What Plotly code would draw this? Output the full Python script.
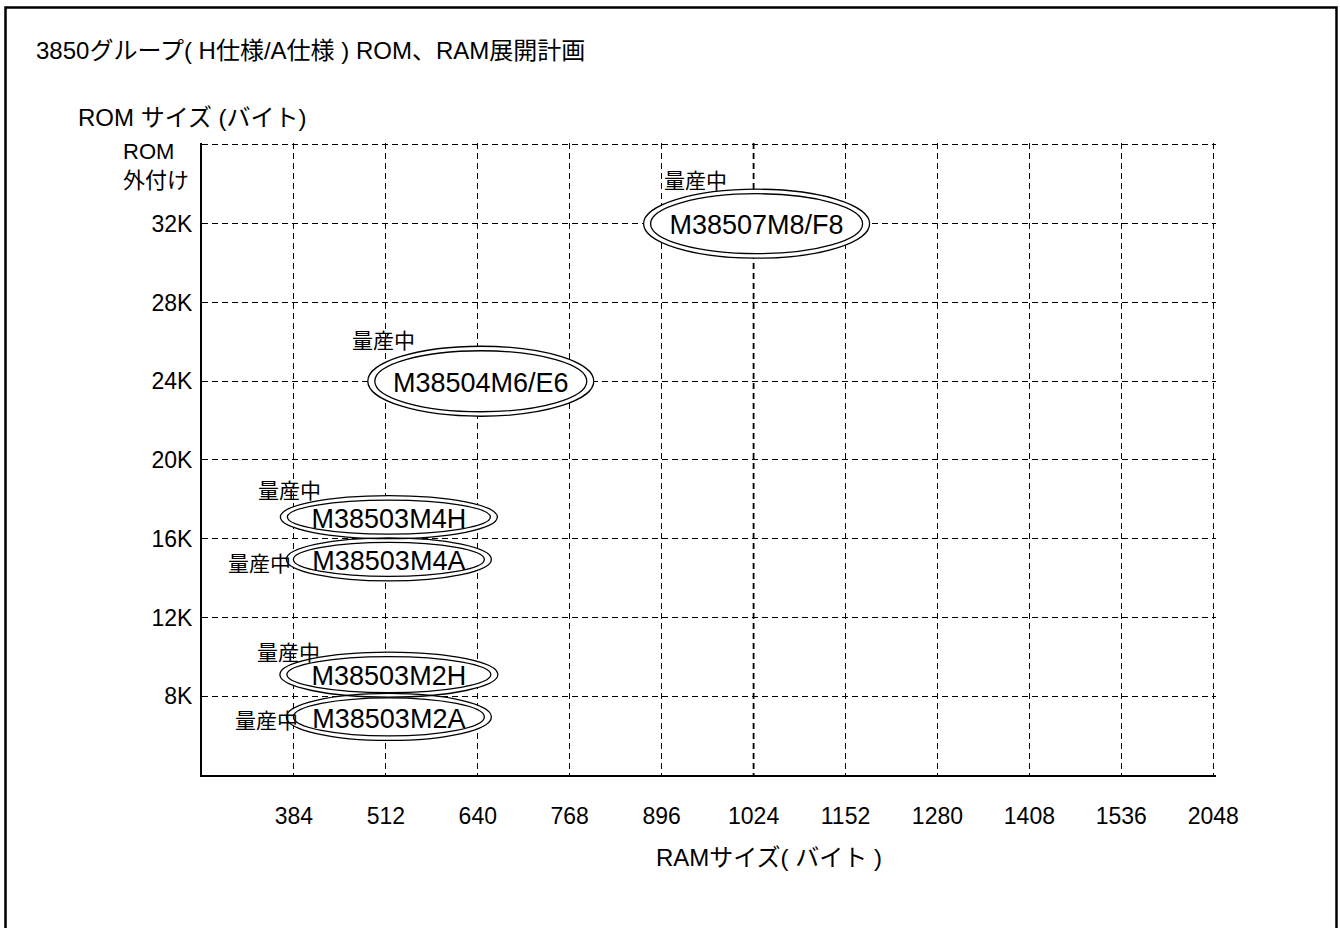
import plotly.graph_objects as go

# ---------------- data ----------------
ram_ticks = ["384", "512", "640", "768", "896", "1024", "1152", "1280", "1408", "1536", "2048"]
rom_ticks = [8, 12, 16, 20, 24, 28, 32, 36]
rom_tick_text = ["8K", "12K", "16K", "20K", "24K", "28K", "32K", ""]
rom_external_label = "ROM<br>外付け"

products = ["M38507M8/F8", "M38504M6/E6", "M38503M4H", "M38503M4A", "M38503M2H", "M38503M2A"]
product_ram = ["1024", "640", "512", "512", "512", "512"]
product_rom_k = [32, 24, 16, 16, 8, 8]
product_status = ["量産中", "量産中", "量産中", "量産中", "量産中", "量産中"]

title_text = "3850グループ( H仕様/A仕様 ) ROM、RAM展開計画"
y_title_text = "ROM サイズ (バイト)"
x_title_text = "RAMサイズ( バイト )"

# ---------------- layout / style ----------------
W, H = 1340, 928
L, R, T, B = 202, 124, 143, 153
X_RANGE = [0, 11.03]
Y_RANGE = [4, 36.1]
PW = W - L - R
PH = H - T - B
PX_X = PW / (X_RANGE[1] - X_RANGE[0])   # px per category step
PX_Y = PH / (Y_RANGE[1] - Y_RANGE[0])   # px per K

FONT = "Liberation Sans, Arial, Noto Sans CJK JP, sans-serif"
TICK_SIZE = 23
TEXT_SIZE = 24
EMPHASISED_RAM = "1024"   # this gridline is drawn heavier in the original
GRID_DASH = "6px,4px"

# vertical separation of H / A variants sharing the same ROM size (K units)
VARIANT_SHIFT = {"H": 1.1, "A": -1.05}
X_NUDGE_PX = 3
# ellipse outer half-width / half-height in pixels
ELLIPSE_PX = {
    "M38507M8/F8": (113, 34.5),
    "M38504M6/E6": (113, 35),
    "M38503M4H": (108.5, 21.5),
    "M38503M4A": (102.5, 21.5),
    "M38503M2H": (109, 22.5),
    "M38503M2A": (102.5, 23.5),
}
INNER_INSET_PX = (7, 4.5)
# status label offset from ellipse centre, pixels (dx right, dy down)
STATUS_OFFSET_PX = {
    "M38507M8/F8": (-61, -43),
    "M38504M6/E6": (-97, -41),
    "M38503M4H": (-99, -27),
    "M38503M4A": (-129, 4),
    "M38503M2H": (-100, -22),
    "M38503M2A": (-122, 4),
}
NAME_DOWN_PX = 4


def px_to_paper(xp, yp):
    return (xp - L) / PW, (H - B - yp) / PH


# centres in data coords
cx, cy = [], []
for name, ram, rom in zip(products, product_ram, product_rom_k):
    x = ram_ticks.index(ram) + 1 + X_NUDGE_PX / PX_X
    siblings = [p for p, rk in zip(products, product_rom_k) if rk == rom]
    y = rom
    if len(siblings) > 1:
        y += VARIANT_SHIFT.get(name[-1], 0)
    cx.append(x)
    cy.append(y)

fig = go.Figure()

fig.add_trace(go.Scatter(
    x=cx,
    y=[v - NAME_DOWN_PX / PX_Y for v in cy],
    mode="text",
    text=products,
    textposition="middle center",
    textfont=dict(family=FONT, size=27, color="black"),
    hoverinfo="skip",
    showlegend=False,
))

shapes = []
# heavier dashed gridline (drawn top->bottom like the grid so dashes align)
ex = ram_ticks.index(EMPHASISED_RAM) + 1
shapes.append(dict(type="line", xref="x", yref="paper", layer="between",
                   x0=ex, x1=ex, y0=1, y1=0,
                   line=dict(color="black", width=1.8, dash=GRID_DASH)))
# white fills first
for name, x, y in zip(products, cx, cy):
    hw, hh = ELLIPSE_PX[name]
    shapes.append(dict(type="circle", xref="x", yref="y", layer="between",
                       x0=x - hw / PX_X, x1=x + hw / PX_X,
                       y0=y - hh / PX_Y, y1=y + hh / PX_Y,
                       fillcolor="white", line=dict(width=0)))
# double outlines
for name, x, y in zip(products, cx, cy):
    hw, hh = ELLIPSE_PX[name]
    for ix, iy in [(0, 0), INNER_INSET_PX]:
        shapes.append(dict(type="circle", xref="x", yref="y", layer="between",
                           x0=x - (hw - ix) / PX_X, x1=x + (hw - ix) / PX_X,
                           y0=y - (hh - iy) / PX_Y, y1=y + (hh - iy) / PX_Y,
                           fillcolor="rgba(0,0,0,0)", line=dict(color="black", width=1.3)))

# outer frame
bx0, by0 = px_to_paper(5.5, 7.5)
bx1, by1 = px_to_paper(1336.5, 945)
shapes.append(dict(type="rect", xref="paper", yref="paper", layer="above",
                   x0=bx0, x1=bx1, y0=by1, y1=by0,
                   line=dict(color="black", width=2.5), fillcolor="rgba(0,0,0,0)"))

annotations = []
for name, x, y, st in zip(products, cx, cy, product_status):
    dx, dy = STATUS_OFFSET_PX[name]
    annotations.append(dict(x=x, y=y, xref="x", yref="y", text=st, showarrow=False,
                            xanchor="center", yanchor="middle", xshift=dx, yshift=-dy,
                            font=dict(family=FONT, size=21, color="black")))

tx, ty = px_to_paper(34, 50)
annotations.append(dict(x=tx, y=ty, xref="paper", yref="paper", text=title_text, showarrow=False,
                        xanchor="left", yanchor="middle", font=dict(family=FONT, size=TEXT_SIZE, color="black")))
tx, ty = px_to_paper(76, 117)
annotations.append(dict(x=tx, y=ty, xref="paper", yref="paper", text=y_title_text, showarrow=False,
                        xanchor="left", yanchor="middle", font=dict(family=FONT, size=TEXT_SIZE, color="black")))
tx, ty = px_to_paper(654, 857)
annotations.append(dict(x=tx, y=ty, xref="paper", yref="paper", text=x_title_text, showarrow=False,
                        xanchor="left", yanchor="middle", font=dict(family=FONT, size=TEXT_SIZE, color="black")))
tx, _ = px_to_paper(121, 0)
annotations.append(dict(x=tx, y=36, xref="paper", yref="y", text=rom_external_label, showarrow=False,
                        xanchor="left", yanchor="top", align="left", yshift=8,
                        font=dict(family=FONT, size=22, color="black")))

fig.update_layout(
    width=W, height=H,
    margin=dict(l=L, r=R, t=T, b=B, autoexpand=False),
    paper_bgcolor="white", plot_bgcolor="white",
    shapes=shapes, annotations=annotations,
    showlegend=False,
    font=dict(family=FONT, color="black"),
)
fig.update_xaxes(
    range=X_RANGE, tickmode="array", tickvals=list(range(1, len(ram_ticks) + 1)), ticktext=ram_ticks,
    showgrid=True, gridcolor="black", gridwidth=1, griddash=GRID_DASH,
    showline=True, linecolor="black", linewidth=2, ticks="", zeroline=False,
    ticklabelstandoff=19, tickfont=dict(family=FONT, size=TICK_SIZE, color="black"),
)
fig.update_yaxes(
    range=Y_RANGE, tickmode="array", tickvals=rom_ticks, ticktext=rom_tick_text,
    showgrid=True, gridcolor="black", gridwidth=1, griddash=GRID_DASH,
    showline=True, linecolor="black", linewidth=2, ticks="", zeroline=False,
    ticklabelstandoff=3, tickfont=dict(family=FONT, size=TICK_SIZE, color="black"),
)

fig.write_html(
    "out.html",
    config={"displayModeBar": False},
    post_script="document.body.style.margin='0px'; document.body.style.overflow='hidden';",
)
